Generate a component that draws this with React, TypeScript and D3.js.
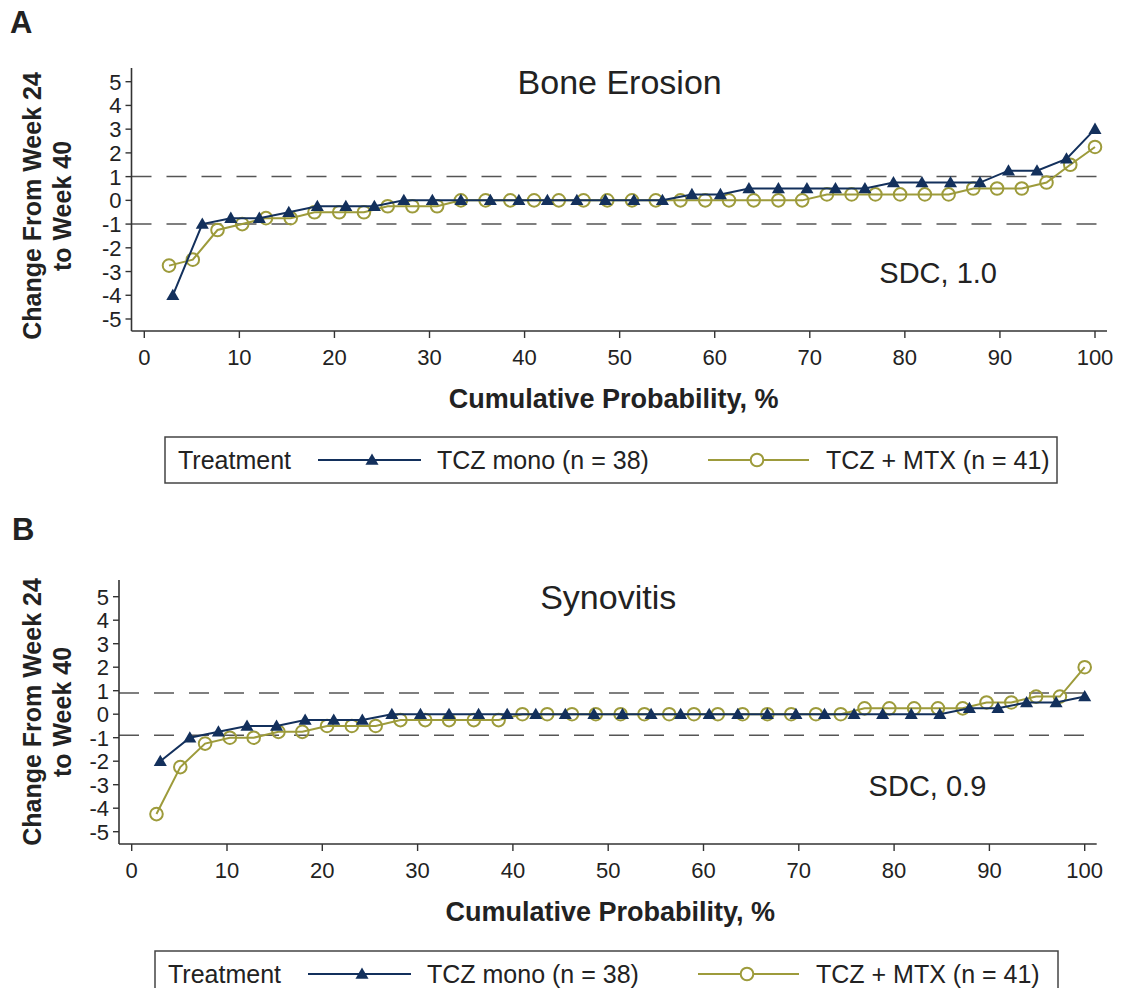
import * as d3 from 'd3'

// cumulative probability (%) of each ranked patient
const monoPct = [3.0, 6.1, 9.1, 12.1, 15.2, 18.2, 21.2, 24.2, 27.3, 30.3, 33.3, 36.4, 39.4, 42.4, 45.5, 48.5, 51.5, 54.5, 57.6, 60.6, 63.6, 66.7, 69.7, 72.7, 75.8, 78.8, 81.8, 84.8, 87.9, 90.9, 93.9, 97.0, 100]
const mtxPct = [2.6, 5.1, 7.7, 10.3, 12.8, 15.4, 17.9, 20.5, 23.1, 25.6, 28.2, 30.8, 33.3, 35.9, 38.5, 41.0, 43.6, 46.2, 48.7, 51.3, 53.8, 56.4, 59.0, 61.5, 64.1, 66.7, 69.2, 71.8, 74.4, 76.9, 79.5, 82.1, 84.6, 87.2, 89.7, 92.3, 94.9, 97.4, 100]

// change from week 24 to week 40
const boneMono = [-4, -1, -0.75, -0.75, -0.5, -0.25, -0.25, -0.25, 0, 0, 0, 0, 0, 0, 0, 0, 0, 0, 0.25, 0.25, 0.5, 0.5, 0.5, 0.5, 0.5, 0.75, 0.75, 0.75, 0.75, 1.25, 1.25, 1.75, 3]
const boneMtx = [-2.75, -2.5, -1.25, -1, -0.75, -0.75, -0.5, -0.5, -0.5, -0.25, -0.25, -0.25, 0, 0, 0, 0, 0, 0, 0, 0, 0, 0, 0, 0, 0, 0, 0, 0.25, 0.25, 0.25, 0.25, 0.25, 0.25, 0.5, 0.5, 0.5, 0.75, 1.5, 2.25]
const synMono = [-2, -1, -0.75, -0.5, -0.5, -0.25, -0.25, -0.25, 0, 0, 0, 0, 0, 0, 0, 0, 0, 0, 0, 0, 0, 0, 0, 0, 0, 0, 0, 0, 0.25, 0.25, 0.5, 0.5, 0.75]
const synMtx = [-4.25, -2.25, -1.25, -1, -1, -0.75, -0.75, -0.5, -0.5, -0.5, -0.25, -0.25, -0.25, -0.25, -0.25, 0, 0, 0, 0, 0, 0, 0, 0, 0, 0, 0, 0, 0, 0, 0.25, 0.25, 0.25, 0.25, 0.25, 0.5, 0.5, 0.75, 0.75, 2]

const yTicks = [5, 4, 3, 2, 1, 0, -1, -2, -3, -4, -5]
const xTicks = [0, 10, 20, 30, 40, 50, 60, 70, 80, 90, 100]
const legendLabels = ['Treatment', 'TCZ mono (n = 38)', 'TCZ + MTX (n = 41)']

const NAVY = '#13305c'
const OLIVE = '#9d9b3b'
const FONT = '"Liberation Sans", Arial, sans-serif'

interface PanelProps {
  letter: string
  title: string
  sdc: number
  mono: number[]
  mtx: number[]
  letterX: number
  letterY: number
  labelMid: number
  xLabelShift: number
  axisX: number
  x0: number
  x100: number
  y5: number
  yM5: number
  axisTop: number
  axisBottom: number
  legend: { left: number; right: number; top: number; bottom: number; shift: number }
}

function Panel(p: PanelProps) {
  const x = d3.scaleLinear().domain([0, 100]).range([p.x0, p.x100])
  const y = d3.scaleLinear().domain([-5, 5]).range([p.yM5, p.y5])
  const axisRight = p.x100 + 12
  const monoPts = monoPct.map((v, i) => [v, p.mono[i]] as [number, number])
  const mtxPts = mtxPct.map((v, i) => [v, p.mtx[i]] as [number, number])
  const line = d3.line<[number, number]>().x((d) => x(d[0])).y((d) => y(d[1]))
  const tri = d3.symbol(d3.symbolTriangle, 74)()
  const cx = (p.x0 + p.x100) / 2
  const L = p.legend
  const ly = (L.top + L.bottom) / 2
  const s = L.shift
  return (
    <g fontFamily={FONT}>
      <text x={p.letterX} y={p.letterY} fontSize={31} fontWeight="bold" fill="#222">{p.letter}</text>
      {/* y label */}
      <g transform={`translate(${41},${p.labelMid}) rotate(-90)`}>
        <text x={0} y={0} textAnchor="middle" fontSize={25} fontWeight="bold" fill="#222">Change From Week 24</text>
        <text x={0} y={30} textAnchor="middle" fontSize={25} fontWeight="bold" fill="#222">to Week 40</text>
      </g>
      <text x={cx} y={y(5) + 12} textAnchor="middle" fontSize={34} fill="#222">{p.title}</text>
      {/* SDC reference lines */}
      {[p.sdc, -p.sdc].map((v) => (
        <line key={v} x1={p.axisX} x2={x(100) + 2} y1={y(v)} y2={y(v)} stroke="#555" strokeWidth={1.5} strokeDasharray="20 15" />
      ))}
      <text x={x(83.5)} y={y(-3.5)} textAnchor="middle" fontSize={29} fill="#222">SDC, {p.sdc.toFixed(1)}</text>
      {/* axes */}
      <line x1={p.axisX} x2={p.axisX} y1={p.axisTop} y2={p.axisBottom} stroke="#333" strokeWidth={1.6} />
      <line x1={p.axisX} x2={axisRight} y1={p.axisBottom} y2={p.axisBottom} stroke="#333" strokeWidth={1.6} />
      {yTicks.map((t) => (
        <g key={t}>
          <line x1={p.axisX - 6} x2={p.axisX} y1={y(t)} y2={y(t)} stroke="#333" strokeWidth={1.4} />
          <text x={p.axisX - 10} y={y(t) + 8} textAnchor="end" fontSize={22} fill="#222">{t}</text>
        </g>
      ))}
      {xTicks.map((t) => (
        <g key={t}>
          <line x1={x(t)} x2={x(t)} y1={p.axisBottom} y2={p.axisBottom + 7} stroke="#333" strokeWidth={1.4} />
          <text x={x(t)} y={p.axisBottom + 34} textAnchor="middle" fontSize={22} fill="#222">{t}</text>
        </g>
      ))}
      <text x={cx + p.xLabelShift} y={p.axisBottom + 77} textAnchor="middle" fontSize={27} fontWeight="bold" fill="#222">Cumulative Probability, %</text>
      {/* series */}
      <path d={line(mtxPts) ?? ''} fill="none" stroke={OLIVE} strokeWidth={2} />
      {mtxPts.map((d, i) => (
        <circle key={i} cx={x(d[0])} cy={y(d[1])} r={6.3} fill="none" stroke={OLIVE} strokeWidth={2} />
      ))}
      <path d={line(monoPts) ?? ''} fill="none" stroke={NAVY} strokeWidth={2} />
      {monoPts.map((d, i) => (
        <path key={i} d={tri ?? ''} transform={`translate(${x(d[0])},${y(d[1]) + 1})`} fill={NAVY} />
      ))}
      {/* legend */}
      <rect x={L.left} y={L.top} width={L.right - L.left} height={L.bottom - L.top} fill="#fff" stroke="#444" strokeWidth={1.5} />
      <text x={178 + s} y={ly + 9} fontSize={25} fill="#222">{legendLabels[0]}</text>
      <line x1={318 + s} x2={421 + s} y1={ly} y2={ly} stroke={NAVY} strokeWidth={1.8} />
      <path d={tri ?? ''} transform={`translate(${372 + s},${ly + 1})`} fill={NAVY} />
      <text x={437 + s} y={ly + 9} fontSize={25} fill="#222">{legendLabels[1]}</text>
      <line x1={708 + s} x2={809 + s} y1={ly} y2={ly} stroke={OLIVE} strokeWidth={1.8} />
      <circle cx={757 + s} cy={ly} r={6.3} fill="#fff" stroke={OLIVE} strokeWidth={2} />
      <text x={826 + s} y={ly + 9} fontSize={25} fill="#222">{legendLabels[2]}</text>
    </g>
  )
}

export default function App() {
  return (
    <svg width={1125} height={988} style={{ position: 'absolute', left: 0, top: 0, background: '#fff' }}>
      <rect width={1125} height={988} fill="#fff" />
      <Panel
        letter="A" title="Bone Erosion" sdc={1.0} mono={boneMono} mtx={boneMtx}
        letterX={10} letterY={33} labelMid={206} xLabelShift={-6}
        axisX={131.5} x0={144.3} x100={1095} y5={81.7} yM5={319}
        axisTop={68} axisBottom={331}
        legend={{ left: 165, right: 1057, top: 437, bottom: 483, shift: 0 }}
      />
      <Panel
        letter="B" title="Synovitis" sdc={0.9} mono={synMono} mtx={synMtx}
        letterX={12} letterY={540} labelMid={712} xLabelShift={2}
        axisX={119} x0={131.7} x100={1084.7} y5={596.7} yM5={831.7}
        axisTop={580} axisBottom={844}
        legend={{ left: 155, right: 1058, top: 951, bottom: 997, shift: -10 }}
      />
    </svg>
  )
}
